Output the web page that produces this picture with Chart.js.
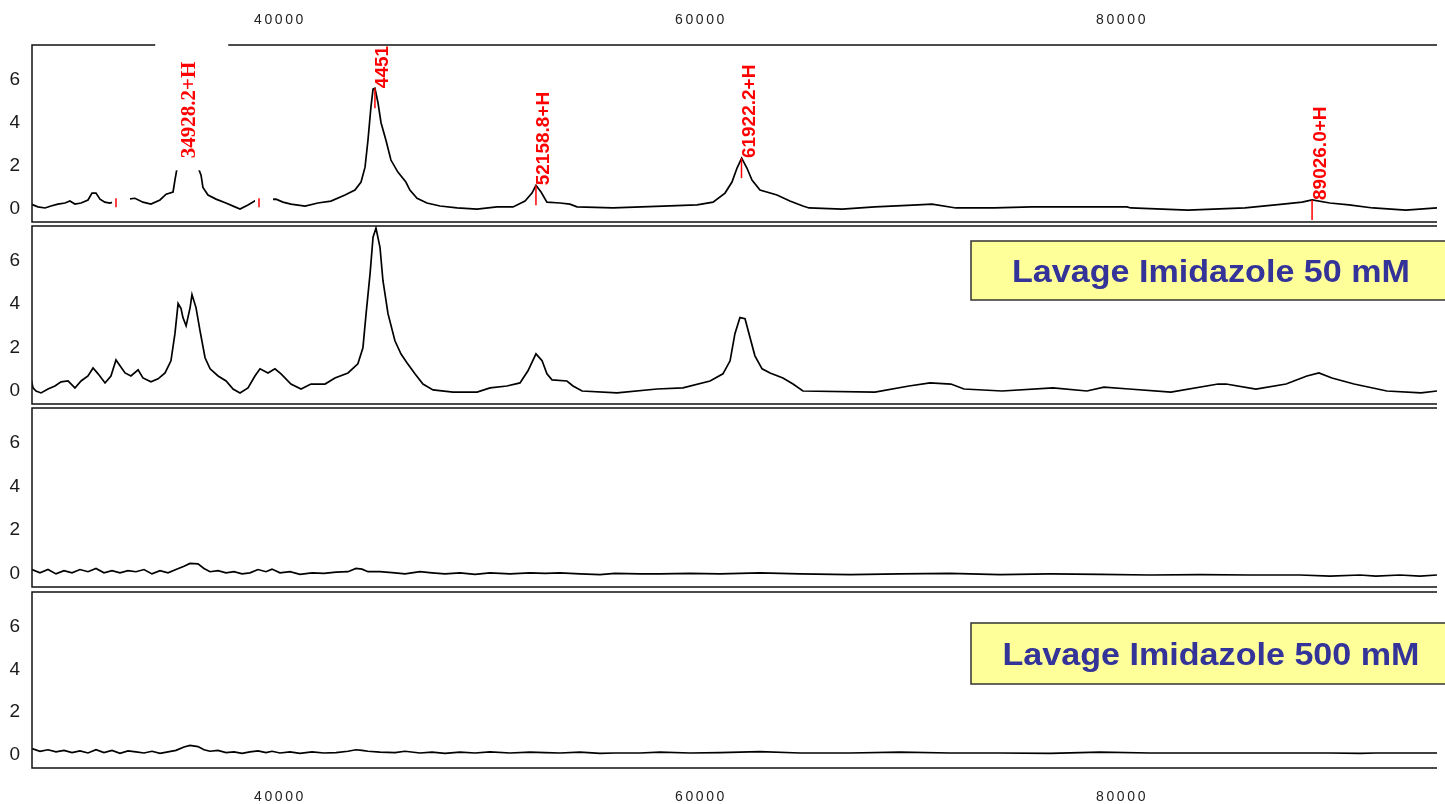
<!DOCTYPE html>
<html>
<head>
<meta charset="utf-8">
<title>Spectres - lavages imidazole</title>
<script src="https://cdn.jsdelivr.net/npm/chart.js@4.4.1/dist/chart.umd.min.js"></script>
<style>
    body { margin: 0; background: #fff; }
    #wrap { position: relative; width: 1445px; height: 804px; overflow: hidden; }
    canvas { position: absolute; left: 0; }
</style>
</head>
<body>
<div id="wrap">
    <canvas id="panel1" width="1445" height="224" style="top:0px;width:1445px;height:224px"></canvas>
    <canvas id="panel2" width="1445" height="182" style="top:224px;width:1445px;height:182px"></canvas>
    <canvas id="panel3" width="1445" height="183" style="top:406px;width:1445px;height:183px"></canvas>
    <canvas id="panel4" width="1445" height="214" style="top:590px;width:1445px;height:214px"></canvas>
</div>
<script>
// ========================================
// DATA (m/z in Da, intensity)
// ========================================

const xTickValues = [40000, 60000, 80000];
const yTickValues = [0, 2, 4, 6];

// spectrum 1 (annotated)
const spec1Mass = [
    28170, 28500, 28840, 29120, 29450, 29790, 30020, 30260, 30550, 30880,
    31070, 31260, 31450, 31680, 31920, 32200, 32640, 32780, 33110, 33490,
    33870, 34300, 34590, 34920, 35010, 35110, 35250, 35400, 35560, 35730,
    35900, 36100, 36250, 36340, 36580, 36960, 37430, 37860, 38100, 38480,
    38950, 39300, 39810, 40140, 40520, 41190, 41800, 42420, 43090, 43560,
    43850, 44040, 44180, 44320, 44420, 44510, 44650, 44800, 45030, 45270,
    45600, 45980, 46170, 46510, 46980, 47600, 48410, 49360, 50310, 51070,
    51640, 51970, 52160, 52400, 52680, 53300, 53770, 54110, 55820, 58190,
    59810, 60570, 61140, 61470, 61710, 61930, 62180, 62420, 62800, 63610,
    64220, 64840, 65130, 66700, 68260, 70300, 70970, 72110, 73920, 75720,
    80230, 80420, 83130, 85840, 87640, 88550, 89030, 89870, 90780, 91920,
    93480, 94960
];
const spec1Int = [
    0.23, 0.10, 0.05, 0.14, 0.23, 0.28, 0.37, 0.23, 0.28, 0.42,
    0.74, 0.74, 0.46, 0.32, 0.28, 0.36, 0.42, 0.46, 0.50, 0.32,
    0.23, 0.42, 0.69, 0.79, 1.34, 1.90, 2.20, 2.10, 2.30, 2.35,
    2.25, 1.95, 1.57, 1.00, 0.65, 0.46, 0.28, 0.10, 0.00, 0.19,
    0.46, 0.44, 0.46, 0.32, 0.23, 0.14, 0.28, 0.37, 0.65, 0.88,
    1.25, 1.94, 3.20, 4.72, 5.56, 5.60, 4.95, 4.00, 3.20, 2.27,
    1.71, 1.25, 0.88, 0.50, 0.28, 0.14, 0.05, 0.00, 0.10, 0.10,
    0.37, 0.74, 1.10, 0.79, 0.32, 0.28, 0.23, 0.10, 0.05, 0.14,
    0.19, 0.32, 0.74, 1.25, 1.90, 2.36, 1.90, 1.34, 0.88, 0.65,
    0.37, 0.14, 0.05, 0.00, 0.10, 0.19, 0.23, 0.05, 0.05, 0.10,
    0.10, 0.05, -0.05, 0.05, 0.23, 0.32, 0.42, 0.28, 0.19, 0.05,
    -0.05, 0.05
];

// peak annotations on spectrum 1
const peakMass = [32210, 34928.2, 39003, 44510.0, 52158.8, 61922.2, 89026.0];
const peakHeight = [0.5, 2.35, 0.5, 5.6, 1.1, 2.36, 0.42];
const peakText = ['', '34928.2+H', '', '44510.0+H', '52158.8+H', '61922.2+H', '89026.0+H'];

// spectrum 2 - Lavage Imidazole 50 mM
const spec2Mass = [
    28170, 28270, 28410, 28650, 28980, 29310, 29600, 29930, 30260, 30550,
    30880, 31120, 31360, 31690, 31970, 32210, 32400, 32640, 32920, 33260,
    33490, 33870, 34210, 34540, 34820, 35010, 35160, 35300, 35390, 35540,
    35730, 35820, 36010, 36200, 36440, 36680, 37060, 37440, 37770, 38100,
    38480, 38810, 39050, 39430, 39760, 40050, 40520, 41000, 41470, 42140,
    42610, 43230, 43700, 43940, 44090, 44280, 44420, 44560, 44750, 44890,
    45130, 45460, 45750, 46030, 46410, 46790, 47270, 48220, 49360, 49980,
    50780, 51400, 51780, 52160, 52450, 52680, 52920, 53630, 53920, 54350,
    56010, 57910, 59140, 60430, 61040, 61380, 61610, 61850, 62090, 62330,
    62560, 62900, 63280, 63890, 64370, 64840, 68260, 69880, 70880, 71870,
    72490, 74300, 76720, 78330, 79140, 80330, 82320, 84560, 84940, 86360,
    87790, 88780, 89350, 89970, 91020, 92580, 94200, 94960
];
const spec2Int = [
    0.56, 0.14, 0.00, -0.09, 0.09, 0.23, 0.42, 0.46, 0.14, 0.46,
    0.69, 1.06, 0.79, 0.37, 0.69, 1.43, 1.16, 0.83, 0.69, 0.97,
    0.60, 0.42, 0.56, 0.83, 1.39, 2.64, 4.03, 3.80, 3.38, 3.00,
    3.84, 4.44, 3.84, 2.78, 1.53, 1.02, 0.69, 0.46, 0.09, -0.09,
    0.14, 0.69, 1.02, 0.83, 1.02, 0.79, 0.32, 0.09, 0.32, 0.32,
    0.60, 0.83, 1.25, 1.99, 3.56, 5.42, 7.08, 7.50, 6.62, 5.09,
    3.56, 2.31, 1.70, 1.30, 0.79, 0.32, 0.05, -0.05, -0.05, 0.14,
    0.23, 0.37, 0.93, 1.71, 1.39, 0.79, 0.51, 0.46, 0.23, 0.00,
    -0.09, 0.09, 0.14, 0.46, 0.79, 1.39, 2.64, 3.38, 3.33, 2.45,
    1.62, 1.02, 0.83, 0.60, 0.32, 0.00, -0.05, 0.23, 0.37, 0.32,
    0.09, 0.00, 0.14, 0.00, 0.18, 0.09, -0.05, 0.32, 0.32, 0.09,
    0.32, 0.69, 0.83, 0.60, 0.32, 0.00, -0.09, 0.00
];

// spectra 3 and 4 (almost flat) share one mass grid
const lowMass = [
    28220, 28600, 28980, 29360, 29740, 30120, 30500, 30880, 31260, 31640,
    32020, 32400, 32780, 33160, 33540, 33920, 34300, 34680, 35060, 35440,
    35725, 36105, 36390, 36675, 37055, 37435, 37815, 38195, 38575, 38955,
    39335, 39620, 40000, 40475, 40950, 41520, 42090, 42660, 43230, 43610,
    43895, 44180, 44750, 45463, 45938, 46650, 47220, 47838, 48550, 49263,
    49975, 50925, 51875, 52588, 53300, 54250, 55200, 55913, 57100, 58050,
    59475, 60900, 62800, 64700, 67075, 69450, 71825, 74200, 76575, 78950,
    81325, 83700, 86075, 88450, 89875, 91300, 92060, 93200, 94150, 94958
];
const spec3Int = [
    0.20, 0.05, 0.20, 0.00, 0.15, 0.05, 0.20, 0.10, 0.25, 0.05,
    0.15, 0.05, 0.15, 0.10, 0.20, 0.00, 0.15, 0.05, 0.20, 0.35,
    0.48, 0.46, 0.25, 0.10, 0.15, 0.05, 0.10, 0.00, 0.05, 0.20,
    0.10, 0.22, 0.05, 0.10, -0.02, 0.05, 0.02, 0.08, 0.10, 0.25,
    0.22, 0.10, 0.10, 0.05, 0.00, 0.10, 0.05, 0.00, 0.05, -0.02,
    0.05, 0.00, 0.05, 0.02, 0.05, 0.00, -0.03, 0.02, 0.00, 0.00,
    0.02, 0.00, 0.05, 0.00, -0.03, 0.00, 0.02, -0.03, 0.00, -0.02,
    -0.05, -0.03, -0.05, -0.05, -0.10, -0.05, -0.10, -0.05, -0.10, -0.05
];
// spectrum 4 - Lavage Imidazole 500 mM
const spec4Int = [
    0.30, 0.18, 0.25, 0.15, 0.22, 0.12, 0.20, 0.10, 0.25, 0.12,
    0.22, 0.08, 0.20, 0.15, 0.10, 0.18, 0.08, 0.15, 0.22, 0.38,
    0.45, 0.40, 0.25, 0.18, 0.22, 0.12, 0.15, 0.08, 0.15, 0.20,
    0.12, 0.18, 0.10, 0.15, 0.08, 0.15, 0.10, 0.12, 0.18, 0.25,
    0.22, 0.18, 0.14, 0.12, 0.18, 0.10, 0.14, 0.08, 0.14, 0.10,
    0.15, 0.10, 0.14, 0.12, 0.10, 0.14, 0.08, 0.10, 0.10, 0.14,
    0.10, 0.12, 0.16, 0.10, 0.10, 0.14, 0.10, 0.10, 0.08, 0.14,
    0.10, 0.10, 0.10, 0.10, 0.10, 0.08, 0.10, 0.10, 0.10, 0.10
];

const X_MIN = 28220, X_MAX = 94960;
const Y_MIN = -0.6, Y_MAX = 7.6;

// ========================================
// PLUGINS
// ========================================

Chart.defaults.font.family = '"Liberation Sans", Arial, sans-serif';

// letter spacing for the wide m/z tick labels
const tickSpacing = {
    id: 'tickSpacing',
    beforeDraw(chart, args, opts) {
        chart.ctx.letterSpacing = opts.spacing || '0px';
    }
};

// panel frame: top, left and bottom lines
const panelFrame = {
    id: 'panelFrame',
    afterDraw(chart) {
        const { ctx, chartArea: a } = chart;
        ctx.save();
        ctx.strokeStyle = '#111';
        ctx.lineWidth = 1.5;
        ctx.beginPath();
        ctx.moveTo(a.right, a.top);
        ctx.lineTo(a.left, a.top);
        ctx.lineTo(a.left, a.bottom);
        ctx.lineTo(a.right, a.bottom);
        ctx.stroke();
        ctx.restore();
    }
};

// red peak markers and rotated mass labels
const peakMarks = {
    id: 'peakMarks',
    afterDraw(chart, args, opts) {
        if (!opts.masses) return;
        const { ctx, chartArea: a, scales: { x, y } } = chart;
        ctx.save();
        ctx.letterSpacing = '0px';
        opts.masses.forEach((m, i) => {
            const px = x.getPixelForValue(m);
            const py = y.getPixelForValue(opts.heights[i]);
            const text = opts.texts[i];
            const boxed = opts.boxed.includes(m);

            if (!text) {
                // empty label: white background hides the trace, short tick
                ctx.fillStyle = '#fff';
                ctx.fillRect(px - 4, py - 14, 18, 19);
                ctx.strokeStyle = '#ff0000';
                ctx.lineWidth = 1.5;
                ctx.beginPath();
                ctx.moveTo(px, py);
                ctx.lineTo(px, py + 9);
                ctx.stroke();
                return;
            }

            if (boxed) {
                ctx.fillStyle = '#fff';
                ctx.fillRect(px - 18, a.top - 4, 73, py + 12 - (a.top - 4));
            } else {
                ctx.strokeStyle = '#ff0000';
                ctx.lineWidth = 1.5;
                ctx.beginPath();
                ctx.moveTo(px, py);
                ctx.lineTo(px, py + 20);
                ctx.stroke();
            }

            ctx.save();
            ctx.beginPath();
            ctx.rect(a.left, a.top, a.right - a.left, a.bottom - a.top);
            ctx.clip();
            ctx.translate(px, py);
            ctx.rotate(-Math.PI / 2);
            ctx.fillStyle = '#ff0000';
            ctx.textAlign = 'left';
            ctx.textBaseline = 'alphabetic';
            if (boxed) {
                ctx.font = 'bold 21px "Liberation Serif", "Times New Roman", serif';
                ctx.fillText(text, 0, 22);
            } else {
                ctx.font = 'bold 19px "Liberation Sans", Arial, sans-serif';
                ctx.fillText(text, 0, 13.5);
            }
            ctx.restore();
        });
        ctx.restore();
    }
};

// yellow caption box
const washBox = {
    id: 'washBox',
    afterDraw(chart, args, opts) {
        if (!opts.text) return;
        const { ctx, chartArea: a } = chart;
        const bx = a.right - 466;
        const by = a.top + opts.offset;
        const bh = opts.height;
        ctx.save();
        ctx.letterSpacing = '0px';
        ctx.fillStyle = '#ffff99';
        ctx.fillRect(bx, by, 490, bh);
        ctx.strokeStyle = '#333';
        ctx.lineWidth = 1.5;
        ctx.strokeRect(bx, by, 490, bh);
        ctx.font = 'bold 31px "Liberation Sans", Arial, sans-serif';
        ctx.fillStyle = '#333399';
        ctx.textAlign = 'center';
        ctx.textBaseline = 'alphabetic';
        ctx.translate(a.right - 226, by + bh / 2 + 11);
        ctx.scale(1.1, 1);
        ctx.fillText(opts.text, 0, 0);
        ctx.restore();
    }
};

// ========================================
// PANEL FACTORY
// ========================================

function makePanel(canvasId, masses, values, cfg) {
    const ctx = document.getElementById(canvasId);
    return new Chart(ctx, {
        type: 'line',
        data: {
            datasets: [{
                data: masses.map((m, i) => ({ x: m, y: values[i] })),
                borderColor: '#000',
                borderWidth: 1.7,
                pointRadius: 0,
                tension: 0,
                fill: false
            }]
        },
        options: {
            responsive: false,
            animation: false,
            events: [],
            layout: { padding: { left: 0, right: 8, top: cfg.padTop, bottom: cfg.padBottom } },
            plugins: {
                legend: { display: false },
                tooltip: { enabled: false },
                tickSpacing: { spacing: cfg.xPos ? '2.6px' : '0px' },
                peakMarks: cfg.peaks || {},
                washBox: cfg.caption || {}
            },
            scales: {
                x: {
                    type: 'linear',
                    min: X_MIN,
                    max: X_MAX,
                    position: cfg.xPos || 'bottom',
                    display: !!cfg.xPos,
                    grid: { display: false, drawTicks: false },
                    border: { display: false },
                    ticks: {
                        font: { size: 14 },
                        color: '#222',
                        padding: cfg.xPad || 0,
                        maxRotation: 0,
                        autoSkip: false,
                        callback: v => String(v)
                    },
                    afterBuildTicks: s => { s.ticks = xTickValues.map(v => ({ value: v })); },
                    afterFit: s => {
                        if (cfg.xHeight) s.height = cfg.xHeight;
                        s.paddingLeft = 0;
                        s.paddingRight = 0;
                    }
                },
                y: {
                    type: 'linear',
                    min: Y_MIN,
                    max: Y_MAX,
                    grid: { display: false, drawTicks: false },
                    border: { display: false },
                    ticks: { font: { size: 19 }, color: '#1a1a1a', padding: cfg.xPos ? 9.4 : 12 },
                    afterBuildTicks: s => { s.ticks = yTickValues.map(v => ({ value: v })); },
                    afterFit: s => {
                        s.width = 32;
                        s.paddingTop = 0;
                        s.paddingBottom = 0;
                    }
                }
            }
        },
        plugins: [tickSpacing, panelFrame, peakMarks, washBox]
    });
}

// ========================================
// INITIALIZATION
// ========================================

makePanel('panel1', spec1Mass, spec1Int, {
    padTop: 0, padBottom: 2, xPos: 'top', xPad: 16.6, xHeight: 45,
    peaks: { masses: peakMass, heights: peakHeight, texts: peakText, boxed: [34928.2] }
});

makePanel('panel2', spec2Mass, spec2Int, {
    padTop: 2, padBottom: 2,
    caption: { text: 'Lavage Imidazole 50 mM', offset: 15, height: 59 }
});

makePanel('panel3', lowMass, spec3Int, { padTop: 2, padBottom: 2 });

makePanel('panel4', lowMass, spec4Int, {
    padTop: 2, padBottom: 0, xPos: 'bottom', xPad: 20.6, xHeight: 36,
    caption: { text: 'Lavage Imidazole 500 mM', offset: 31, height: 61 }
});
</script>
</body>
</html>
